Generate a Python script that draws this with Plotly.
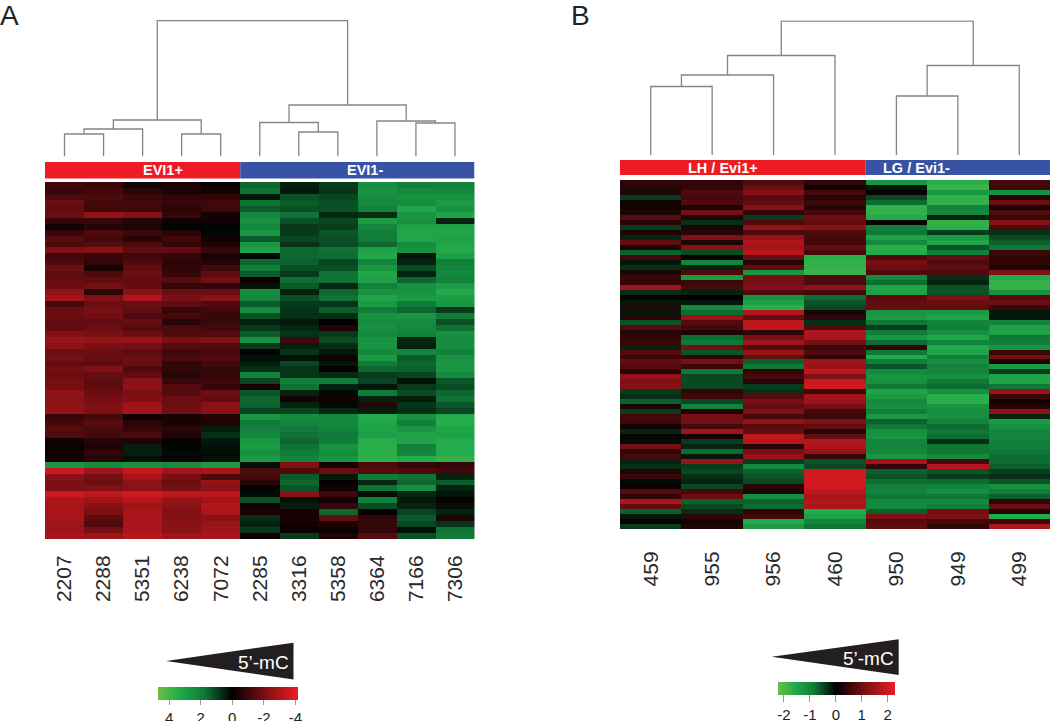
import plotly.graph_objects as go

W, H = 1050, 721

samples_a = ["2207", "2288", "5351", "6238", "7072", "2285", "3316", "5358", "6364", "7166", "7306"]
samples_b = ["459", "955", "956", "460", "950", "949", "499"]

# Panel A rows, one list per sample (red = positive on the internal scale)
s2207 = [1.2,1.0,1.4,2.0,1.8,2.0,1.0,0.4,1.0,1.6,1.4,2.4,1.2,1.5,2.0,1.8,1.9,2.0,2.8,3.1,1.3,2.0,2.0,1.8,1.8,2.5,2.9,2.6,2.0,2.2,1.8,2.1,2.0,2.2,2.2,2.7,2.6,2.7,2.8,1.0,1.3,1.6,1.5,0.3,0.2,0.3,0.4,-3.2,4.0,2.6,2.4,2.3,4.0,3.3,3.2,3.2,3.2,3.0,3.0,3.2]
s2288 = [1.0,1.3,1.4,1.3,1.2,2.8,1.0,0.7,1.5,1.3,1.6,2.5,1.0,0.9,0.5,1.4,1.8,2.1,0.8,2.4,2.0,2.2,2.1,1.8,2.0,2.3,2.8,2.3,2.0,1.9,1.7,2.4,1.9,1.7,1.8,2.0,2.2,2.4,2.4,1.3,1.6,1.4,1.3,0.7,0.6,0.9,0.7,-2.8,3.0,2.2,2.0,2.4,3.7,3.0,2.6,2.3,1.7,1.5,2.2,3.0]
s5351 = [0.4,0.8,1.1,1.3,1.2,2.5,0.7,0.6,1.1,0.7,1.5,1.8,1.2,1.5,1.8,2.0,1.8,1.9,2.6,3.3,2.0,1.8,1.5,1.9,1.6,2.0,2.9,2.2,1.7,2.0,2.0,1.5,1.8,2.6,2.7,2.3,2.4,3.0,3.1,0.3,0.8,1.0,1.4,0.6,-0.5,-0.5,-0.3,-3.0,3.8,3.2,2.7,2.6,4.0,3.4,3.0,3.2,3.2,3.3,3.3,3.5]
s6238 = [0.5,0.5,0.9,1.0,0.8,1.0,0.3,-0.1,0.7,1.2,1.0,1.8,1.0,0.8,0.9,1.0,1.6,1.0,2.0,2.3,1.8,1.0,1.3,0.7,1.4,1.5,2.3,1.6,1.3,1.4,0.9,0.9,0.7,1.0,1.6,1.6,2.0,2.0,2.1,0.4,0.5,0.8,0.6,0.1,-0.1,-0.2,0.2,-2.8,3.1,2.3,2.0,2.2,3.6,2.8,2.6,2.4,2.5,2.6,2.6,3.0]
s7072 = [0.1,0.4,0.9,1.2,1.1,0.4,0.3,-0.1,-0.1,0.3,0.6,1.0,0.5,0.7,1.2,1.8,2.1,0.9,2.0,2.6,1.5,1.2,1.0,1.1,1.3,1.6,2.4,1.5,1.3,1.5,1.3,1.0,1.0,1.2,1.0,2.0,1.8,2.6,2.6,0.6,0.6,-0.5,-0.8,-0.4,-0.3,-0.2,-0.3,-3.3,3.2,1.4,2.8,2.6,3.6,3.1,3.4,3.3,2.6,2.9,3.0,3.2]
s2285 = [-1.8,-2.0,-0.4,-2.0,-1.6,-2.6,-3.0,-2.6,-3.2,-1.6,-3.2,-3.6,-0.2,-1.8,-2.2,-1.6,0.2,-0.3,-2.8,-2.6,-1.6,-2.8,-1.4,-0.6,-1.0,-1.6,-3.0,-1.0,-0.1,-0.3,-0.5,-0.8,-2.4,-1.2,0.4,-1.5,-1.8,-1.7,-1.2,-3.2,-2.2,-2.4,-2.6,-3.2,-3.4,-3.0,-3.3,-0.3,1.4,1.3,0.8,0.1,-0.2,-1.4,0.3,0.5,-0.8,-0.6,-1.0,0.3]
s3316 = [-0.5,-0.4,-1.4,-1.6,-1.4,-2.0,-1.4,-1.0,-1.0,-1.2,-0.9,-1.8,-1.8,-1.7,-1.4,-1.0,-1.9,-1.6,-0.6,-1.4,-1.0,-0.9,-0.8,-0.4,-0.7,-0.9,1.2,-0.5,-0.9,-0.3,-1.2,-0.9,-0.9,-2.3,-2.0,-0.6,0.4,-0.6,-1.2,-2.8,-2.5,-2.2,-2.0,-1.8,-2.0,-2.2,-2.6,2.4,1.5,-1.6,-1.8,-1.5,2.6,-0.3,-0.5,0.4,0.5,0.3,0.2,-1.0]
s5358 = [-1.0,-0.9,-1.2,-1.4,-1.4,-0.7,-1.2,-1.1,-1.5,-1.4,-1.3,-2.0,-1.9,-1.2,-1.4,-2.0,-2.0,-0.7,-1.8,-2.0,-0.9,-1.6,-0.8,0.0,0.6,-1.0,-1.3,-0.8,-0.4,0.3,-0.4,0.1,-0.7,-2.2,-0.6,-0.2,0.3,-0.2,-0.7,-2.6,-2.7,-2.5,-2.2,-2.2,-3.0,-2.8,-3.2,0.4,2.0,-0.4,0.0,0.3,1.2,0.3,1.0,-1.8,1.8,0.5,0.2,0.6]
s6364 = [-2.8,-3.0,-2.8,-2.7,-2.4,-0.8,-3.4,-2.6,-2.3,-2.2,-1.8,-3.6,-3.9,-2.5,-3.2,-3.8,-3.6,-2.4,-3.0,-3.7,-3.3,-2.2,-3.0,-2.8,-3.0,-2.7,-3.0,-3.1,-2.7,-3.3,-2.2,-1.8,-1.0,-1.2,-0.4,-2.2,-0.6,0.7,-0.5,-4.0,-3.8,-3.7,-3.5,-4.1,-4.2,-4.2,-4.3,1.4,1.6,-2.2,-0.7,-2.0,-0.3,-2.4,-1.3,0.1,0.9,1.0,0.9,1.6]
s7166 = [-2.3,-2.7,-3.0,-2.8,-3.8,-3.2,-3.0,-3.6,-3.8,-3.8,-2.8,-3.0,-0.4,-0.6,-1.3,-0.6,-1.8,-3.0,-3.0,-3.3,-2.2,-1.8,-3.2,-2.8,-2.7,-2.4,-0.7,-0.6,-2.6,-1.6,-1.8,-1.7,-1.2,-0.3,-1.0,-1.3,-0.5,-0.9,-0.8,-3.0,-2.4,-3.2,-3.7,-3.6,-2.4,-2.6,-4.0,1.0,1.5,-2.0,-1.8,-2.9,-0.7,-0.4,-0.6,-1.2,-1.6,-1.2,-0.3,-1.4]
s7306 = [-2.4,-2.6,-3.0,-3.4,-3.0,-3.7,-0.6,-3.6,-3.8,-3.6,-3.8,-3.9,-3.5,-2.3,-2.5,-2.7,-2.4,-3.4,-3.9,-3.5,-3.2,-1.0,-2.2,-1.4,-2.0,-3.0,-2.8,-2.9,-2.4,-3.0,-3.1,-3.2,-2.7,-1.5,-1.3,-1.8,-2.0,-1.5,-1.2,-4.0,-4.1,-3.8,-3.6,-4.0,-4.1,-4.0,-4.4,0.9,1.2,-0.6,-1.6,-0.6,-0.4,0.2,-0.3,-0.6,0.6,-0.9,-2.0,-2.2]

# Panel B rows, one list per sample
s459 = [0.5,0.4,0.3,-0.5,0.2,0.2,0.3,0.9,0.4,-0.5,0.3,-0.3,1.0,0.3,-0.8,0.7,-0.2,-0.4,0.3,0.6,0.5,1.7,-0.4,0.1,-0.2,0.4,-0.2,0.4,-0.7,0.9,0.4,0.5,0.6,-0.3,0.9,0.6,1.0,0.9,0.4,1.5,1.3,1.4,-0.5,-0.4,-0.8,0.3,-0.5,0.7,0.6,0.2,-0.3,0.1,-0.1,1.2,0.5,0.7,-0.3,-0.4,0.3,0.6,-0.1,0.1,0.9,0.5,1.8,1.0,-0.8,-0.2,0.1,-0.5]
s955 = [0.5,0.5,0.8,0.7,0.8,0.3,1.2,0.3,-0.4,0.3,0.4,1.3,0.3,1.4,-0.6,0.1,-1.2,-0.3,0.8,-1.6,0.6,0.7,-0.3,0.0,-0.2,-1.3,-0.9,1.6,0.9,0.7,0.3,-0.9,-1.0,1.2,-0.7,0.5,1.2,0.6,-1.0,-0.6,-0.6,-0.6,0.5,0.6,-0.6,-1.2,0.3,1.2,1.2,0.7,1.7,0.2,-0.5,-0.3,-0.9,-0.2,1.6,-0.5,-0.6,-0.4,-0.3,-0.6,0.7,1.1,-0.8,-0.6,-0.4,0.5,0.2,0.3]
s956 = [0.8,1.1,1.4,0.9,1.0,1.4,0.5,-0.5,0.8,1.5,0.8,1.6,1.8,1.7,1.9,1.0,0.4,1.0,-1.5,1.2,1.2,1.3,0.8,-1.5,-1.7,-2.0,1.9,1.0,2.0,2.0,0.5,1.2,1.7,0.8,1.6,1.0,-0.8,-1.0,0.5,0.7,0.4,-0.5,-0.4,0.9,1.2,1.0,1.3,0.7,1.5,0.9,1.0,2.0,1.9,0.4,1.2,1.6,-0.5,-1.3,-0.8,-0.7,-0.6,0.4,0.3,-1.4,-0.8,-0.9,0.5,0.7,-1.9,-1.6]
s460 = [0.5,0.2,0.7,0.4,0.6,0.4,0.7,1.1,1.0,1.4,0.8,0.7,0.7,1.0,0.7,-2.0,-2.1,-2.1,-2.2,0.8,0.8,1.5,0.7,-0.9,-0.7,-0.6,0.3,0.5,-0.4,0.8,1.8,1.8,1.2,0.6,0.8,0.5,1.7,1.6,2.0,1.3,2.1,2.2,0.6,1.7,1.6,1.2,0.7,0.6,1.3,1.0,0.4,1.0,1.9,1.8,1.5,0.6,-0.7,-0.6,2.2,2.2,2.25,2.2,2.0,1.8,1.9,1.8,-1.9,-1.7,-1.2,-1.0]
s950 = [-1.5,-0.2,0.1,-0.6,-0.9,-2.1,-2.1,-1.9,0.1,-1.1,-1.0,-1.7,-1.3,-2.0,-1.9,0.8,1.2,1.1,0.8,-1.3,-0.9,-1.8,-1.7,0.9,1.0,1.0,-1.5,-1.6,-1.0,-0.5,-1.1,-1.5,-0.9,0.5,-1.0,-1.9,-1.1,-0.7,-1.3,-1.5,-1.4,-1.0,-1.8,-1.6,-1.3,-1.4,-1.1,-1.6,-0.8,-1.0,-1.4,-1.5,-1.2,-1.2,-1.3,-1.5,1.7,0.5,-0.8,-0.7,-0.9,-1.1,-1.2,-1.0,-1.3,-1.3,-0.8,1.3,0.9,1.0]
s949 = [-2.0,-2.2,-1.6,-2.1,-2.1,-1.2,-1.3,-0.3,-2.1,-2.0,-0.5,-1.6,-1.8,-0.7,-1.1,1.0,0.8,1.0,0.8,-0.4,-0.3,-0.7,-0.7,1.3,1.1,1.0,-1.6,-1.8,-1.2,-1.1,-1.4,-1.8,-1.2,-1.9,-1.8,-1.1,-1.4,-1.2,-1.2,-1.4,-1.0,-0.9,-1.4,-2.0,-2.0,-1.5,-1.4,-1.4,-1.2,-0.9,-1.0,-0.9,-0.4,-1.0,-1.0,-1.3,0.7,1.9,-0.7,-0.5,-0.9,-1.2,-1.4,-1.0,-1.3,-1.1,1.2,1.3,0.7,0.5]
s499 = [0.7,0.6,-1.4,0.4,1.1,0.3,0.8,0.6,1.4,0.8,-0.4,-0.6,-0.8,-1.0,0.6,0.5,0.5,0.3,1.3,-1.9,-2.1,-2.1,-1.4,0.9,1.1,0.6,-0.2,-0.2,-1.2,-1.7,-1.8,-1.0,-1.1,-1.5,0.6,1.2,0.3,-1.6,-0.5,-1.8,-1.8,-1.0,1.6,0.6,0.2,0.4,1.5,-0.3,-1.6,-1.4,-1.2,-1.2,-1.1,-1.1,-1.0,-0.9,-0.9,-0.8,-0.5,-0.4,-0.7,-1.4,-1.1,-0.8,0.5,1.1,0.3,-1.9,0.6,1.8]

# Dendrogram merges: (left child, right child, height). Integers are leaves,
# strings are earlier merges by name.
merges_a = {
    "a1": (0, 1, 22.5), "a2": ("a1", 2, 27.5), "a3": (3, 4, 22.5), "a4": ("a2", "a3", 36.5),
    "a5": (6, 7, 24.5), "a6": (5, "a5", 34), "a7": (9, 10, 33.5), "a8": (8, "a7", 35.5),
    "a9": ("a6", "a8", 51.5), "a10": ("a4", "a9", 136),
}
merges_b = {
    "b1": (0, 1, 68.5), "b2": ("b1", 2, 80), "b3": ("b2", 3, 99.5),
    "b4": (4, 5, 59), "b5": ("b4", 6, 89.5), "b6": ("b3", "b5", 134),
}

groups_a = [("EVI1+", 0, 4, "#ed1c24"), ("EVI1-", 5, 10, "#3953a4")]
groups_b = [("LH / Evi1+", 0, 3, "#ed1c24"), ("LG / Evi1-", 4, 6, "#3953a4")]

ticks_a = [-4, -2, 0, 2, 4]
ticklabels_a = ["4", "2", "0", "-2", "-4"]
ticks_b = [-2, -1, 0, 1, 2]
ticklabels_b = ["-2", "-1", "0", "1", "2"]

# My eye read the cells slightly too bright; these pull the estimates back.
GREEN_CAL = 0.84
RED_CAL = 0.90


def fx(p):
    return p / W


def fy(p):
    return 1 - p / H


def transpose(cols):
    return [[v * (RED_CAL if v > 0 else GREEN_CAL) for v in r] for r in zip(*cols)]


def dendro(merges, xa, ya):
    xs, ys = [], []
    pos = {}

    def where(n):
        return (n, 0.0) if isinstance(n, int) else pos[n]

    for name, (l, r, h) in merges.items():
        lx, lh = where(l)
        rx, rh = where(r)
        xs += [lx, lx, rx, rx, None]
        ys += [lh, h, h, rh, None]
        pos[name] = ((lx + rx) / 2, h)
    return go.Scatter(x=xs, y=ys, mode="lines", xaxis=xa, yaxis=ya, showlegend=False,
                      hoverinfo="skip", cliponaxis=False,
                      line=dict(color="#858585", width=1.3))


def scale(zmin, zmax):
    mid = -zmin / (zmax - zmin)
    return [
        [0, "#6cbd45"], [mid * 0.28, "#22ac4b"], [mid * 0.62, "#0f7a38"], [mid, "#000000"],
        [mid + (1 - mid) * 0.5, "#7c1014"], [1, "#ed1c24"],
    ]


fig = go.Figure()

ZA = (-4.70, 4.16)
ZB = (-2.24, 2.27)
cols_a = [s2207, s2288, s5351, s6238, s7072, s2285, s3316, s5358, s6364, s7166, s7306]
cols_b = [s459, s955, s956, s460, s950, s949, s499]
FONT = "Liberation Sans"

fig.add_trace(go.Heatmap(
    z=transpose(cols_a), xaxis="x", yaxis="y", zmin=ZA[0], zmax=ZA[1], colorscale=scale(*ZA),
    hoverinfo="skip",
    colorbar=dict(orientation="h", x=fx(158), xanchor="left", y=fy(687), yanchor="top",
                  lenmode="pixels", len=139.5, thicknessmode="pixels", thickness=13,
                  xpad=0, ypad=0, outlinewidth=0, borderwidth=0, tickmode="array",
                  tickvals=ticks_a, ticktext=ticklabels_a, ticks="outside", ticklen=5,
                  tickwidth=1, tickcolor="#999999",
                  tickfont=dict(family=FONT, size=15, color="#222222"))))
fig.add_trace(go.Heatmap(
    z=transpose(cols_b), xaxis="x3", yaxis="y3", zmin=ZB[0], zmax=ZB[1], colorscale=scale(*ZB),
    hoverinfo="skip",
    colorbar=dict(orientation="h", x=fx(777.7), xanchor="left", y=fy(682), yanchor="top",
                  lenmode="pixels", len=117.3, thicknessmode="pixels", thickness=13,
                  xpad=0, ypad=0, outlinewidth=0, borderwidth=0, tickmode="array",
                  tickvals=ticks_b, ticktext=ticklabels_b, ticks="outside", ticklen=7,
                  tickwidth=1, tickcolor="#999999",
                  tickfont=dict(family=FONT, size=15, color="#222222"))))
fig.add_trace(dendro(merges_a, "x2", "y2"))
fig.add_trace(dendro(merges_b, "x4", "y4"))


def cat_axis(dom, n, labels, tlen, **kw):
    return dict(domain=[fx(dom[0]), fx(dom[1])], range=[-0.5, n - 0.5], tickmode="array",
                tickvals=list(range(n)), ticktext=labels, tickangle=-90, ticks="outside",
                ticklen=tlen, tickcolor="rgba(0,0,0,0)", showgrid=False, zeroline=False,
                showline=False, tickfont=dict(family=FONT, size=21, color="#2a2a2a"), **kw)


def hidden(dom, rng):
    return dict(domain=[fy(dom[1]), fy(dom[0])], range=rng, visible=False, fixedrange=True)


def hidden_x(dom, n):
    return dict(domain=[fx(dom[0]), fx(dom[1])], range=[-0.5, n - 0.5], visible=False)


shapes, annotations = [], []


def group_bar(groups, xref, y0, y1, label_px):
    for (name, first, last, color), lx in zip(groups, label_px):
        shapes.append(dict(type="rect", xref=xref, yref="paper", x0=first - 0.5, x1=last + 0.5,
                           y0=fy(y1), y1=fy(y0), fillcolor=color, line_width=0))
        annotations.append(dict(xref="paper", yref="paper", x=fx(lx), y=fy((y0 + y1) / 2),
                                text=f"<b>{name}</b>", showarrow=False, yanchor="middle",
                                font=dict(family=FONT, size=14.5, color="white")))


def wedge(tip, top, bottom, label_x, label_y):
    path = (f"M {fx(tip[0])} {fy(tip[1])} L {fx(top[0])} {fy(top[1])} "
            f"L {fx(bottom[0])} {fy(bottom[1])} Z")
    shapes.append(dict(type="path", xref="paper", yref="paper", path=path,
                       fillcolor="#231f20", line_width=0))
    annotations.append(dict(xref="paper", yref="paper", x=fx(label_x), y=fy(label_y),
                            text="5\u2019-mC", showarrow=False, xanchor="right", yanchor="middle",
                            font=dict(family=FONT, size=19, color="white")))


group_bar(groups_a, "x", 162, 178.5, [141, 345])
group_bar(groups_b, "x3", 160, 175, [760, 952])
wedge((166, 661), (293.5, 642.7), (293.5, 679.5), 291, 662)
wedge((771.7, 656.7), (898.7, 639.3), (898.7, 675), 896, 658)
for text, x, y in [("A", -2, 16), ("B", 569, 16)]:
    annotations.append(dict(xref="paper", yref="paper", x=fx(x), y=fy(y), text=text, showarrow=False,
                            xanchor="left", yanchor="middle",
                            font=dict(family=FONT, size=28, color="#222222")))

fig.update_layout(
    width=W, height=H, margin=dict(l=0, r=0, t=0, b=0, autoexpand=False),
    paper_bgcolor="white", plot_bgcolor="white",
    showlegend=False, shapes=shapes, annotations=annotations,
    xaxis=cat_axis((45, 474.5), 11, samples_a, 7, anchor="y"),
    yaxis=dict(domain=[fy(539), fy(182)], range=[59.5, -0.5], visible=False),
    xaxis2=dict(**hidden_x((45, 474.5), 11), anchor="y2"),
    yaxis2=dict(**hidden((20, 156.5), [0, 136.5])),
    xaxis3=cat_axis((620, 1050), 7, samples_b, 13, anchor="y3"),
    yaxis3=dict(domain=[fy(529), fy(180)], range=[69.5, -0.5], visible=False),
    xaxis4=dict(**hidden_x((620, 1050), 7), anchor="y4"),
    yaxis4=dict(**hidden((20.5, 155), [0, 134.5])),
)

fig.write_html("out.html", config={"displayModeBar": False},
               post_script="document.body.style.margin='0';document.body.style.overflow='hidden';")
